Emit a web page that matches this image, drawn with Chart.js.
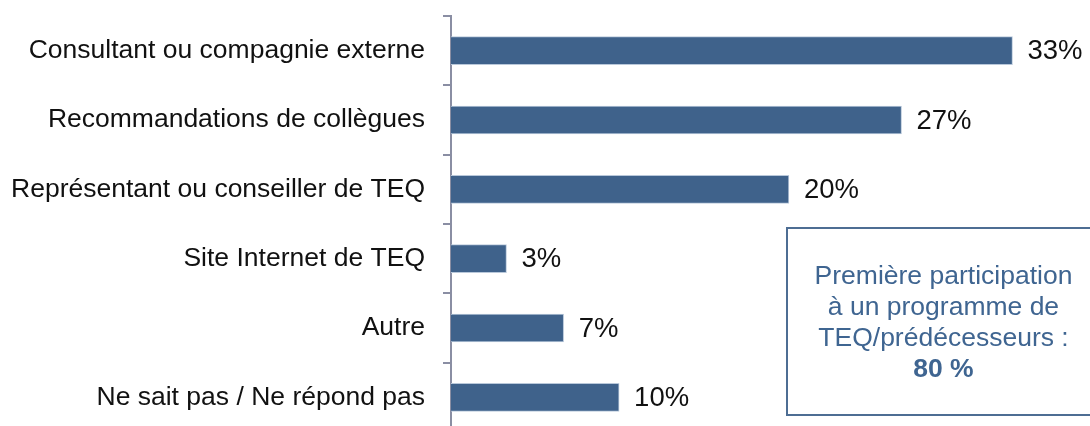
<!DOCTYPE html>
<html lang="fr">
<head>
<meta charset="utf-8">
<script src="https://cdn.jsdelivr.net/npm/chart.js@4/dist/chart.umd.min.js"></script>
<style>
  html, body { margin: 0; padding: 0; background: #fff; overflow: hidden; }
  #wrap { position: relative; width: 1090px; height: 426px; overflow: hidden; }
  #holder { position: absolute; left: 0; top: 0; width: 1090px; height: 432px; }
  #note {
    position: absolute; left: 786px; top: 227px; width: 315px; height: 189px;
    box-sizing: border-box; border: 2px solid #4d6d93;
    display: flex; align-items: center; justify-content: center; text-align: center;
    font-family: Arial, "Liberation Sans", sans-serif; font-size: 26.5px; line-height: 31px;
    color: #3f6591;
  }
</style>
</head>
<body>
<div id="wrap">
  <div id="holder"><canvas id="graficSources"></canvas></div>
  <div id="note"><div>Première participation<br>à un programme de<br>TEQ/prédécesseurs :<br><b>80 %</b></div></div>
</div>
<script>
const categories = [
  'Consultant ou compagnie externe',
  'Recommandations de collègues',
  'Représentant ou conseiller de TEQ',
  'Site Internet de TEQ',
  'Autre',
  'Ne sait pas / Ne répond pas'
];
const pourcentages = [33.4, 26.8, 20.1, 3.3, 6.7, 10.0];

const etiquettes = {
  id: 'etiquettes',
  afterDatasetsDraw(chart) {
    const ctx = chart.ctx;
    const meta = chart.getDatasetMeta(0);
    ctx.save();
    ctx.font = '27.5px Arial, "Liberation Sans", sans-serif';
    ctx.fillStyle = '#111';
    ctx.textAlign = 'left';
    ctx.textBaseline = 'middle';
    meta.data.forEach(function (bar, i) {
      ctx.fillText(Math.round(pourcentages[i]) + '%', bar.x + 15, bar.y + 1);
    });
    ctx.restore();
  }
};

const ctx = document.getElementById('graficSources').getContext('2d');
new Chart(ctx, {
  type: 'bar',
  data: {
    labels: categories,
    datasets: [{
      data: pourcentages,
      backgroundColor: '#3f628b',
      borderColor: '#b9c8da',
      borderWidth: 1,
      borderSkipped: 'start',
      barThickness: 28
    }]
  },
  options: {
    indexAxis: 'y',
    responsive: true,
    maintainAspectRatio: false,
    animation: false,
    layout: { padding: { top: 16, right: 17, left: 0, bottom: 0 } },
    scales: {
      x: { display: false, min: 0, max: 37 },
      y: {
        afterFit: function (scale) {
          scale.width = 451;
          scale.paddingTop = 0;
          scale.paddingBottom = 0;
        },
        border: { display: true, color: '#8a8ea3', width: 2 },
        grid: { display: true, drawOnChartArea: false, drawTicks: true, tickLength: 8, color: '#8a8ea3', lineWidth: 2, offset: true },
        ticks: {
          padding: 18,
          color: '#111',
          font: { family: 'Arial, "Liberation Sans", sans-serif', size: 26.5 }
        }
      }
    },
    plugins: {
      legend: { display: false },
      tooltip: { enabled: false }
    }
  },
  plugins: [etiquettes]
});
</script>
</body>
</html>
